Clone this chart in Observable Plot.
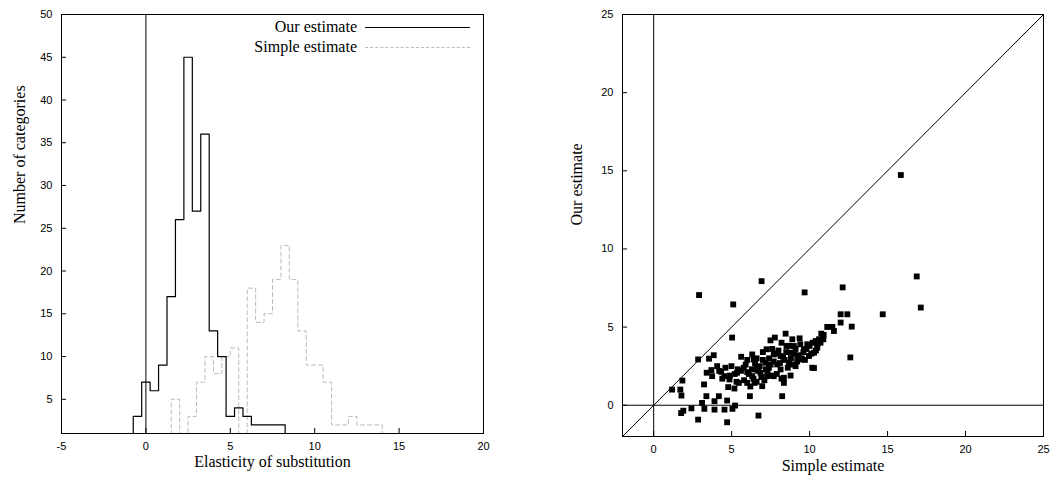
<!DOCTYPE html>
<html><head><meta charset="utf-8">
<script src="https://cdn.jsdelivr.net/npm/d3@7"></script>
<script src="https://cdn.jsdelivr.net/npm/@observablehq/plot@0.6"></script>
<style>
body{margin:0;background:#fff}
#wrap{display:flex;position:relative;width:1060px}
.leg{position:absolute;font:16px "Liberation Serif",serif;display:flex;align-items:center}
.leg span{display:inline-block;width:105px;margin-left:8px;border-top:1.3px solid #000}
</style></head><body>
<div id="wrap">
 <div id="left" style="position:relative"></div>
 <div id="right"></div>
 <div class="leg" style="right:590px;top:18px">Our estimate<span></span></div>
 <div class="leg" style="right:590px;top:38px">Simple estimate<span style="border-top:1.3px dashed #bbb"></span></div>
</div>
<script>
// histogram bins (centers, width 0.5)
const ourCenters = [-0.5,0,0.5,1,1.5,2,2.5,3,3.5,4,4.5,5,5.5,6,6.5,7,7.5,8];
const ourCounts  = [3,7,6,9,17,26,45,27,36,13,10,3,4,3,2,2,2,2];
const simpleCenters = [1.75,2.25,2.75,3.25,3.75,4.25,4.75,5.25,5.75,6.25,6.75,7.25,7.75,8.25,8.75,9.25,9.75,10.25,10.75,11.25,11.75,12.25,12.75,13.25,13.75];
const simpleCounts  = [5,0,3,7,10,8,10,11,0,18,14,15,19,23,19,13,9,9,7,2,2,3,2,2,2];

// scatter: simple estimate vs our estimate
const simpleEst = [1.18,1.71,1.78,1.84,1.76,1.9,2.42,2.85,2.91,2.85,3.23,3.1,3.25,3.38,3.55,3.85,3.4,3.7,3.75,3.9,3.9,4.18,4.07,4.33,4.54,4.71,4.54,4.71,4.78,4.86,4.99,5.03,5.1,5.05,5.22,5.18,5.31,5.35,5.46,5.61,5.78,6.0,6.17,6.0,6.32,6.32,6.42,6.53,6.47,6.72,6.92,6.64,6.85,6.96,7.24,7.17,7.28,7.39,7.49,7.7,7.7,7.77,7.92,8.14,8.14,8.24,8.35,8.35,8.46,8.52,8.67,8.78,8.78,8.89,8.99,9.1,9.21,9.36,9.42,9.68,9.64,9.85,9.96,10.17,10.28,10.28,10.39,10.49,10.6,10.75,10.88,11.13,11.46,11.56,11.99,11.99,12.12,12.42,12.61,12.7,14.69,16.87,17.13,15.85,
5.6,5.8,5.9,6.1,6.2,6.3,6.4,6.5,6.6,6.7,6.8,6.9,7.0,7.1,7.2,7.3,7.4,7.5,7.6,7.7,7.8,7.9,8.0,8.1,8.2,8.3,8.4,8.5,8.6,8.7,8.8,8.9,9.0,9.1,9.2,9.3,9.5,9.6,9.7,9.8,10.0,10.1,10.2,10.4,10.5,10.7,10.9,5.4,5.2,4.9,4.6,4.4,4.2,6.0,7.0,8.2,9.4,6.6,7.6];
const ourEst = [1.0,1.0,0.62,1.58,-0.5,-0.35,-0.2,-0.92,7.05,2.93,1.33,0.15,-0.23,0.58,2.98,3.2,2.08,2.25,1.86,0.26,-0.28,0.58,2.5,2.14,1.86,0.3,-0.28,-1.09,1.16,1.65,2.5,4.33,6.45,-0.23,-0.02,1.07,1.5,2.08,1.43,3.1,2.4,2.12,0.58,1.43,3.25,1.86,2.93,2.29,1.43,-0.66,7.94,2.4,2.08,1.22,3.58,2.72,1.86,2.4,4.15,3.25,1.86,4.33,2.61,3.15,2.29,0.58,1.43,1.76,4.58,3.79,2.72,1.9,3.36,4.22,3.79,2.5,3.15,4.28,2.93,7.22,3.58,3.9,3.15,2.4,2.38,3.36,4.11,3.68,4.22,4.58,4.22,5.01,5.01,4.75,5.29,5.82,7.54,5.82,3.06,5.03,5.82,8.24,6.25,14.73,
2.2,1.6,2.6,2.0,1.2,2.3,1.7,2.7,1.5,2.2,2.5,1.8,2.9,1.6,2.3,2.1,3.0,2.6,1.9,2.8,3.3,2.0,3.5,2.7,1.7,3.1,2.9,3.4,2.4,3.8,3.0,2.6,3.3,3.6,2.8,3.2,3.0,3.4,2.9,3.6,3.8,3.3,4.0,3.5,3.9,4.0,4.5,2.3,2.0,1.9,2.4,1.7,2.2,2.9,3.4,4.0,3.9,3.0,3.6];

function steps(centers, counts) {
  const pts = [];
  centers.forEach((c, i) => { pts.push({x: c - 0.25, y: counts[i]}, {x: c + 0.25, y: counts[i]}); });
  pts.unshift({x: centers[0] - 0.25, y: 0});
  pts.push({x: centers[centers.length - 1] + 0.25, y: 0});
  return pts;
}

const serif = '"Liberation Serif", serif';
const fmt = d => String(d);
const left = Plot.plot({
  width: 530, height: 480,
  marginLeft: 61, marginRight: 47, marginTop: 14, marginBottom: 47,
  style: {fontFamily: '"Liberation Sans", sans-serif', fontSize: "11px", color: "#000"},
  x: {domain: [-5, 20], ticks: [-5,0,5,10,15,20], tickSize: -5, tickFormat: fmt, label: null},
  y: {domain: [1, 50], ticks: [5,10,15,20,25,30,35,40,45,50], tickSize: -5, label: null},
  marks: [
    Plot.ruleX([0], {stroke: "#000"}),
    Plot.line(steps(simpleCenters, simpleCounts), {x: "x", y: "y", stroke: "#bbb", strokeDasharray: "4,3", strokeWidth: 1, clip: true}),
    Plot.line(steps(ourCenters, ourCounts), {x: "x", y: "y", stroke: "#000", strokeWidth: 1.2, clip: true}),
    Plot.frame({stroke: "#000"}),
    Plot.text(["Elasticity of substitution"], {frameAnchor: "bottom", dy: 33, fontFamily: serif, fontSize: 16}),
    Plot.text(["Number of categories"], {frameAnchor: "left", dx: -42, rotate: -90, fontFamily: serif, fontSize: 16})
  ]
});
document.getElementById("left").append(left);

const pts = simpleEst.map((s, i) => ({s, o: ourEst[i]}));
const right = Plot.plot({
  width: 530, height: 480,
  marginLeft: 92, marginRight: 17, marginTop: 14, marginBottom: 44,
  style: {fontFamily: '"Liberation Sans", sans-serif', fontSize: "11px", color: "#000"},
  x: {domain: [-2, 25], ticks: [0,5,10,15,20,25], tickSize: -5, label: null},
  y: {domain: [-2, 25], ticks: [0,5,10,15,20,25], tickSize: -5, label: null},
  marks: [
    Plot.ruleX([0], {stroke: "#000"}),
    Plot.ruleY([0], {stroke: "#000"}),
    Plot.line([{v: -2}, {v: 25}], {x: "v", y: "v", stroke: "#000", strokeWidth: 1}),
    Plot.dot(pts, {x: "s", y: "o", symbol: "square", r: 3.3, fill: "#000", stroke: null}),
    Plot.frame({stroke: "#000"}),
    Plot.text(["Simple estimate"], {frameAnchor: "bottom", dy: 34, fontFamily: serif, fontSize: 16}),
    Plot.text(["Our estimate"], {frameAnchor: "left", dx: -46, rotate: -90, fontFamily: serif, fontSize: 16})
  ]
});
document.getElementById("right").append(right);
</script>
</body></html>
